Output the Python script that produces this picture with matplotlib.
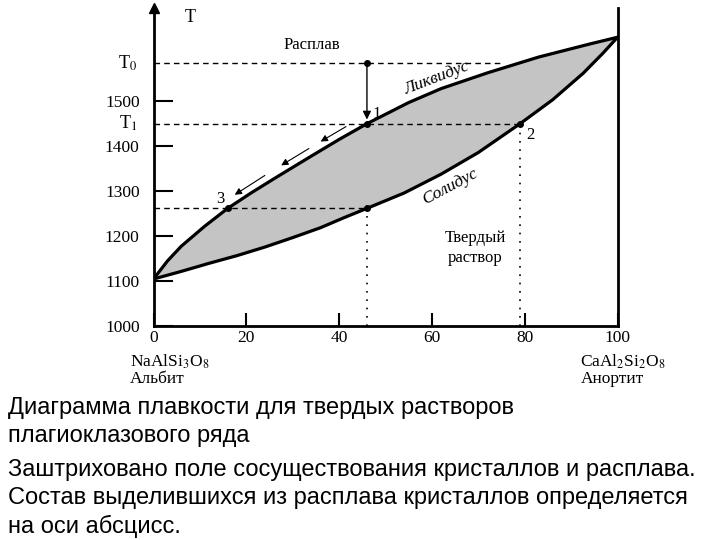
import numpy as np
import matplotlib.pyplot as plt

plt.rcParams['font.family'] = ['Liberation Serif', 'DejaVu Serif']
plt.rcParams['mathtext.fontset'] = 'stix'

# liquidus and solidus (mol.% anorthite, temperature)
liq_x = [0, 3, 6, 11, 16, 21, 26, 34, 40, 46, 55, 62, 72, 83, 94, 100]
liq_t = [1105, 1145, 1178, 1222, 1262, 1296, 1328, 1378, 1415, 1450, 1497, 1528, 1563, 1598, 1627, 1642]
sol_x = [0, 6, 12, 18, 24, 30, 36, 41, 46, 54, 62, 70, 79, 86, 92.6, 96.9, 100]
sol_t = [1105, 1122, 1140, 1157, 1176, 1197, 1219, 1241, 1262, 1296, 1338, 1386, 1450, 1503, 1562, 1607, 1642]

# the cooling path
x_melt = 46      # composition of the melt
x_2 = 79         # first crystals
x_3 = 16         # last melt
T0, T1, T3 = 1585, 1450, 1262

yticks = [1000, 1100, 1200, 1300, 1400, 1500]
xticks = [0, 20, 40, 60, 80, 100]
path_arrows = [(42, 35.5), (34, 27), (24.5, 17)]

fig = plt.figure(figsize=(7.2, 5.4), dpi=100)
ax = fig.add_axes([153.5 / 720, (540 - 326.3) / 540, 464 / 720, 318.3 / 540])
ax.set_xlim(0, 100)
ax.set_ylim(1000, 1707)

ax.fill_between(liq_x, liq_t, np.interp(liq_x, sol_x, sol_t), color='#c4c4c4', lw=0)
ax.fill_between(sol_x, np.interp(sol_x, liq_x, liq_t), sol_t, color='#c4c4c4', lw=0)
ax.plot(liq_x, liq_t, color='black', lw=2.3, solid_capstyle='round')
ax.plot(sol_x, sol_t, color='black', lw=2.3, solid_capstyle='round')

# dashed isotherms
ax.plot([0, 75], [T0, T0], color='black', lw=1, dashes=(4, 3))
ax.plot([0, x_2], [T1, T1], color='black', lw=1, dashes=(4, 3))
ax.plot([0, x_melt], [T3, T3], color='black', lw=1, dashes=(4, 3))
# dotted verticals
ax.plot([x_melt, x_melt], [1000, T3], color='black', lw=1.2, dashes=(1, 4))
ax.plot([x_2, x_2], [1000, T1], color='black', lw=1.2, dashes=(1, 4))

ax.plot([x_melt, x_melt, x_2, x_3, x_melt], [T0, T1, T1, T3, T3], 'o', color='black', ms=4)
ax.annotate('', xy=(x_melt, T1 + 3), xytext=(x_melt, T0),
            arrowprops=dict(arrowstyle='-|>', color='black', lw=1, mutation_scale=12))
for xs, xe in path_arrows:
    ax.annotate('', xy=(xe, np.interp(xe, liq_x, liq_t) + 20),
                xytext=(xs, np.interp(xs, liq_x, liq_t) + 20),
                arrowprops=dict(arrowstyle='-|>', color='black', lw=0.8, mutation_scale=10))

ax.text(x_melt + 1.2, T1 + 4, '1', fontsize=12, ha='left', va='bottom')
ax.text(x_2 + 1.3, T1 - 8, '2', fontsize=12, ha='left', va='top')
ax.text(x_3 - 0.8, T3 + 4, '3', fontsize=12, ha='right', va='bottom')

ax.text(34.2, 1625, 'Расплав', fontsize=12, ha='center', va='center')
ax.text(61, 1552, 'Ликвидус', fontsize=12.5, style='italic', rotation=21, ha='center', va='center')
ax.text(64, 1309, 'Солидус', fontsize=12.5, style='italic', rotation=28, ha='center', va='center')
ax.text(69.3, 1174, 'Твердый\nраствор', fontsize=12, ha='center', va='center', linespacing=1.3)

# axes
for s in ['left', 'bottom', 'right']:
    ax.spines[s].set_linewidth(2)
ax.spines['top'].set_visible(False)
ax.plot(0, 1, marker='^', color='black', ms=7, transform=ax.transAxes, clip_on=False)
ax.text(8, 1685, 'T', fontsize=13, ha='center', va='center')

ax.set_yticks(yticks)
ax.set_xticks(xticks)
ax.tick_params(axis='y', direction='in', length=14, width=1.5, labelsize=12.5, pad=10)
ax.tick_params(axis='x', direction='in', length=9.5, width=1.5, labelsize=12.5, pad=3)
ax.text(-3.5, T0, 'T$_0$', fontsize=13, ha='right', va='center')
ax.text(-3.5, T1, 'T$_1$', fontsize=13, ha='right', va='center')

ax.text(-5, 922, 'NaAlSi$_3$O$_8$', fontsize=12.5, ha='left', va='center', clip_on=False)
ax.text(-5, 884, 'Альбит', fontsize=12.5, ha='left', va='center', clip_on=False)
ax.text(92, 922, 'CaAl$_2$Si$_2$O$_8$', fontsize=12.5, ha='left', va='center', clip_on=False)
ax.text(92, 884, 'Анортит', fontsize=12.5, ha='left', va='center', clip_on=False)

cap = dict(fontsize=17, family=['Liberation Sans Narrow', 'Liberation Sans'], ha='left', va='center')
fig.text(8 / 720, 1 - 408 / 540, 'Диаграмма плавкости для твердых растворов', **cap)
fig.text(8 / 720, 1 - 436 / 540, 'плагиоклазового ряда', **cap)
fig.text(8 / 720, 1 - 470 / 540, 'Заштриховано поле сосуществования кристаллов и расплава.', **cap)
fig.text(8 / 720, 1 - 498 / 540, 'Состав выделившихся из расплава кристаллов определяется', **cap)
fig.text(8 / 720, 1 - 526 / 540, 'на оси абсцисс.', **cap)

fig.savefig('out.png', dpi=100)
